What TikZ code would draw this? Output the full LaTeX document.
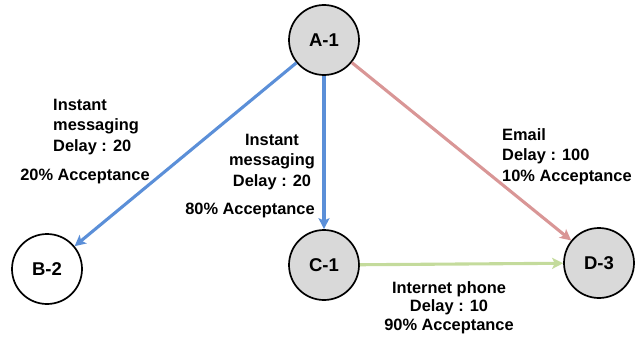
\documentclass[tikz,border=0pt]{standalone}
\usepackage{fontspec}
\setmainfont{Liberation Sans}
\usepackage{tikz}
\usetikzlibrary{arrows.meta}
\definecolor{nodefill}{HTML}{D9D9D9}
\definecolor{imblue}{HTML}{5B8FD8}
\definecolor{mailred}{HTML}{D99696}
\definecolor{phonegreen}{HTML}{C4DB9C}
\tikzset{
  site/.style={circle, draw=black, line width=1.7pt, fill=nodefill, minimum size=70pt, inner sep=0pt, font=\fontsize{18.5}{20}\selectfont\bfseries},
  link/.style={line width=3.1pt, -{Stealth[length=11pt, width=11pt, inset=2.5pt]}},
  lab/.style={inner sep=0pt, font=\fontsize{16.4}{20.5}\selectfont\bfseries}
}

\begin{document}
\begin{tikzpicture}[x=1pt, y=-1pt]
  \useasboundingbox (0,0) rectangle (644,337);

  \node[site] (A1) at (324,40) {A-1};
  \node[site, fill=white] (B2) at (47,269) {B-2};
  \node[site] (C1) at (324,265) {C-1};
  \node[site] (D3) at (599,263) {D-3};

  % links
  \draw[link, imblue] (A1) -- (B2);
  \draw[link, imblue] (A1) -- (C1);
  \draw[link, mailred] (A1) -- (D3);
  \draw[link, phonegreen] (C1) -- (D3);

  % labels
  \node[lab, anchor=north west, align=left] (labAB) at (53,99) {Instant\\messaging\\Delay : 20};
  \node[lab, anchor=base] (accAB) at (85,180) {20\% Acceptance};
  \node[lab, anchor=north, align=center] (labAC) at (272,134) {Instant\\messaging\\Delay : 20};
  \node[lab, anchor=base] (accAC) at (250,214) {80\% Acceptance};
  \node[lab, anchor=north west, align=left] (labAD) at (502,128) {Email\\Delay : 100\\10\% Acceptance};
  \node[lab, anchor=north, align=center, font=\fontsize{16.4}{18.5}\selectfont\bfseries] (labCD) at (449,281) {Internet phone\\Delay : 10\\90\% Acceptance};
\end{tikzpicture}
\end{document}
